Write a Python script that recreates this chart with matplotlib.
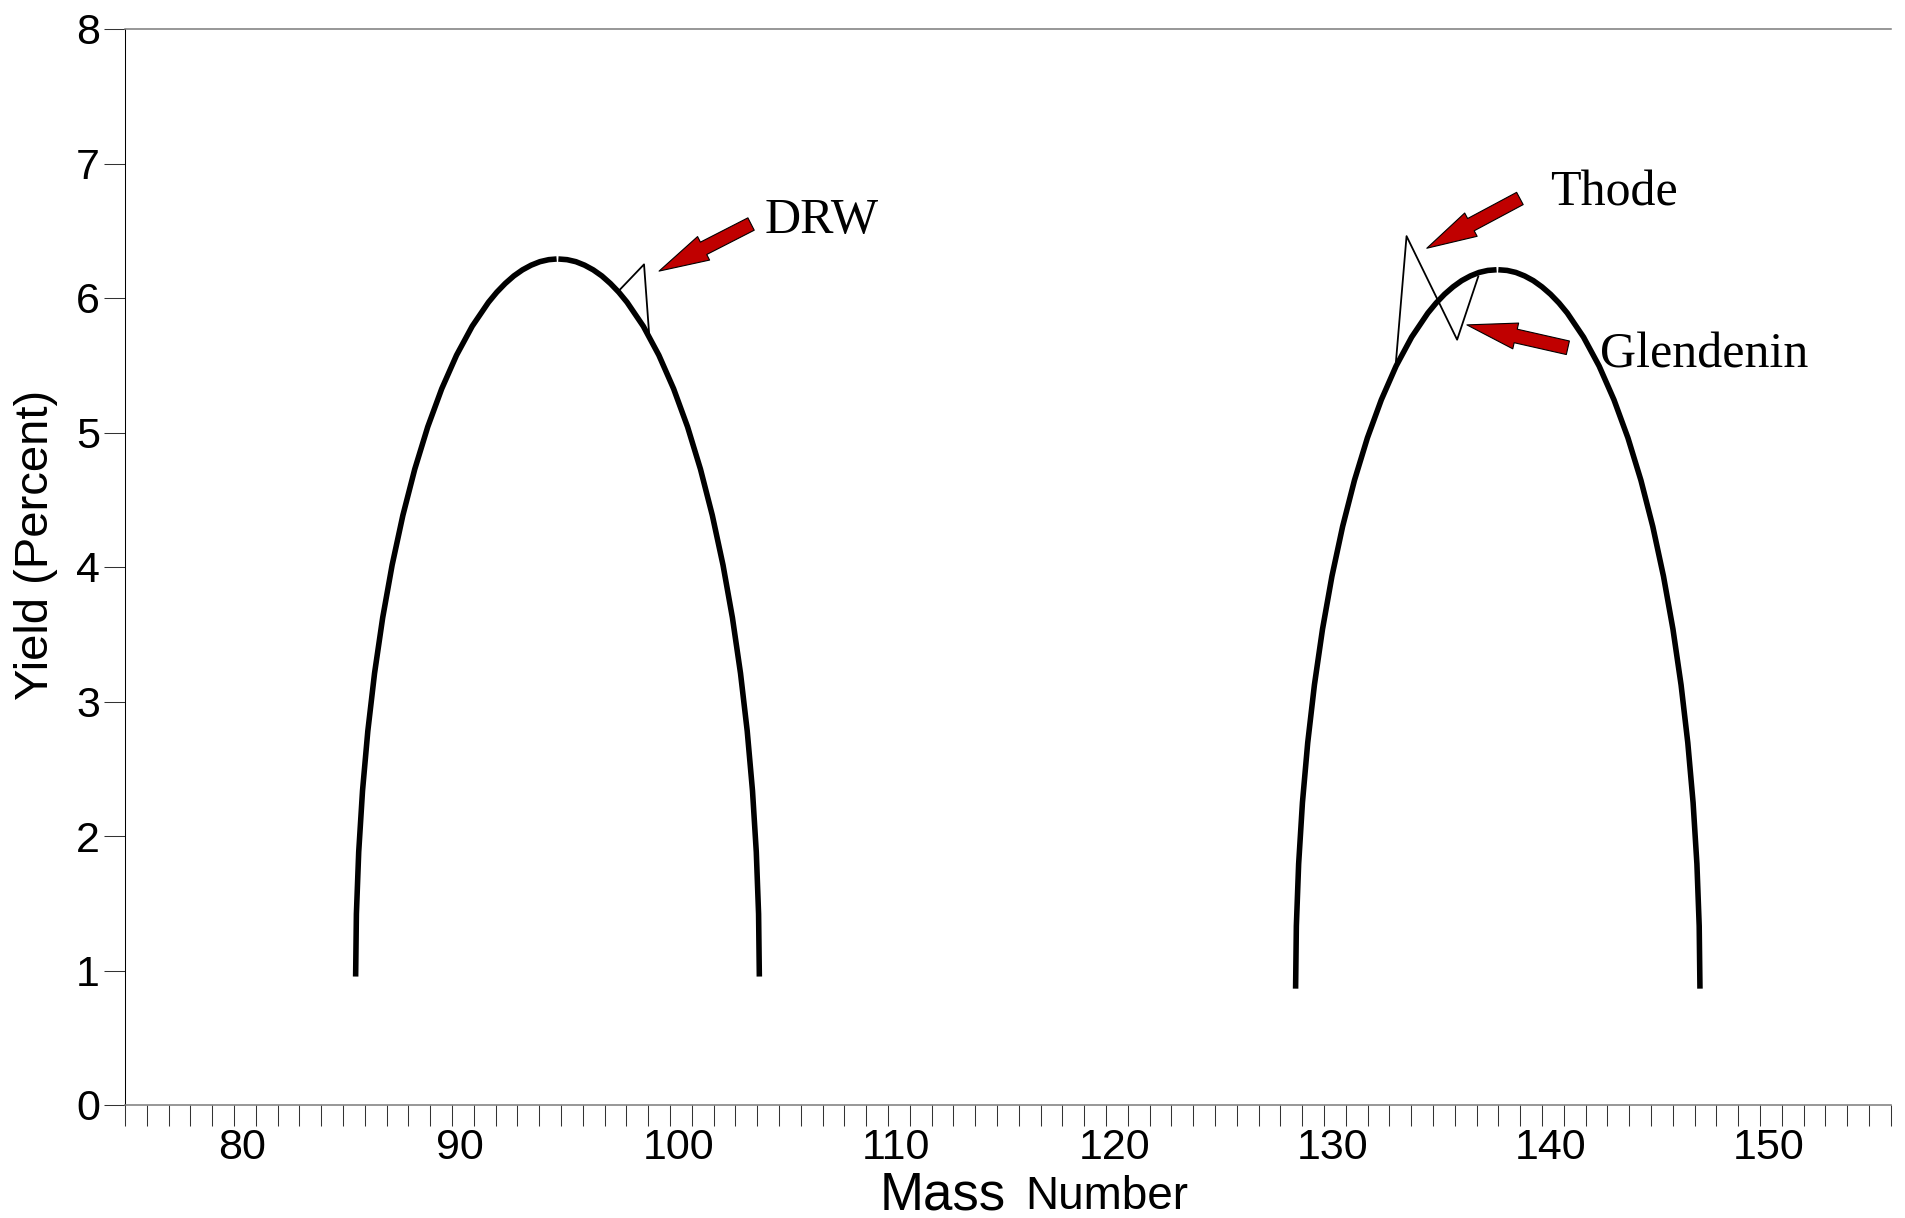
import matplotlib.pyplot as plt
from matplotlib.ticker import FixedLocator, MultipleLocator
from matplotlib.transforms import ScaledTranslation

plt.rcParams["font.family"] = ["Liberation Sans", "DejaVu Sans"]

# light fission-fragment peak (rising and falling halves)
light_up_mass = [85.58, 85.615, 85.721, 85.896, 86.139, 86.448, 86.821, 87.255, 87.747,
                 88.292, 88.888, 89.529, 90.210, 90.927, 91.673, 92.055, 92.443, 92.836,
                 93.232, 93.631, 94.033, 94.436, 94.80]
light_up_yield = [0.955, 1.420, 1.881, 2.336, 2.780, 3.210, 3.623, 4.015, 4.384,
                  4.727, 5.042, 5.325, 5.575, 5.790, 5.968, 6.043, 6.108, 6.164,
                  6.209, 6.244, 6.270, 6.285, 6.290]
light_down_mass = [94.88, 95.282, 95.684, 96.084, 96.481, 96.876, 97.266, 97.653, 98.033,
                   98.777, 99.490, 100.168, 100.807, 101.400, 101.943, 102.433, 102.865,
                   103.236, 103.544, 103.786, 103.960, 104.065, 104.10]
light_down_yield = [6.290, 6.285, 6.270, 6.244, 6.209, 6.164, 6.108, 6.043, 5.968,
                    5.790, 5.575, 5.325, 5.042, 4.727, 4.384, 4.015, 3.623,
                    3.210, 2.780, 2.336, 1.881, 1.420, 0.955]

# heavy peak
heavy_up_mass = [128.70, 128.735, 128.840, 129.014, 129.256, 129.564, 129.935, 130.367,
                 130.857, 131.401, 131.994, 132.632, 133.310, 134.023, 134.767, 135.148,
                 135.534, 135.924, 136.319, 136.717, 137.116, 137.518, 137.92]
heavy_up_yield = [0.865, 1.331, 1.793, 2.248, 2.693, 3.124, 3.538, 3.931,
                  4.301, 4.645, 4.960, 5.243, 5.494, 5.709, 5.888, 5.963,
                  6.028, 6.083, 6.129, 6.164, 6.190, 6.205, 6.210]
heavy_down_mass = [138.0, 138.404, 138.806, 139.207, 139.606, 140.002, 140.394, 140.782,
                   141.164, 141.909, 142.625, 143.306, 143.946, 144.541, 145.086, 145.577,
                   146.011, 146.383, 146.692, 146.935, 147.110, 147.215, 147.25]
heavy_down_yield = [6.210, 6.205, 6.190, 6.164, 6.129, 6.083, 6.028, 5.963,
                    5.888, 5.709, 5.494, 5.243, 4.960, 4.645, 4.301, 3.931,
                    3.538, 3.124, 2.693, 2.248, 1.793, 1.331, 0.865]

# fine-structure bumps reported by the different groups
drw_mass = [97.63, 98.81, 99.05]
drw_yield = [6.05, 6.25, 5.72]
thode_mass = [133.29, 133.79, 136.11, 137.08]
thode_yield = [5.50, 6.46, 5.69, 6.16]

# label text, anchor (mass, yield), arrow tail and arrow tip
labels = ["DRW", "Thode", "Glendenin"]
label_pos = [(104.36, 6.48), (140.37, 6.69), (142.66, 5.48)]
arrow_tail = [(103.72, 6.55), (138.99, 6.74), (141.19, 5.63)]
arrow_tip = [(99.50, 6.20), (134.72, 6.37), (136.56, 5.80)]

mass_ticks = [80, 90, 100, 110, 120, 130, 140, 150]
yield_ticks = [0, 1, 2, 3, 4, 5, 6, 7, 8]

fig, ax = plt.subplots(figsize=(19.06, 12.18), dpi=100)
fig.subplots_adjust(left=125 / 1906, right=1890.7 / 1906,
                    top=1 - 29 / 1218, bottom=1 - 1105 / 1218)

ax.plot(drw_mass, drw_yield, color="black", lw=1.3, zorder=2)
ax.plot(thode_mass, thode_yield, color="black", lw=1.3, zorder=2)

for xs, ys in [(light_up_mass, light_up_yield), (light_down_mass, light_down_yield),
               (heavy_up_mass, heavy_up_yield), (heavy_down_mass, heavy_down_yield)]:
    ax.plot(xs, ys, color="black", lw=4.0, solid_capstyle="butt",
            solid_joinstyle="round", zorder=3)

for text, pos, tail, tip in zip(labels, label_pos, arrow_tail, arrow_tip):
    ax.annotate("", xy=tip, xytext=tail,
                arrowprops=dict(arrowstyle="simple,head_length=36,head_width=19,tail_width=10",
                                mutation_scale=1, fc="#C00000", ec="black", lw=0.8,
                                shrinkA=0, shrinkB=0),
                zorder=4)
    ax.text(pos[0], pos[1], text, family=["Liberation Serif", "DejaVu Serif"],
            fontsize=36, va="baseline", ha="left", zorder=5)

ax.set_xlim(75, 156)
ax.set_ylim(0, 8)
ax.xaxis.set_major_locator(FixedLocator(mass_ticks))
ax.xaxis.set_minor_locator(MultipleLocator(1))
ax.set_yticks(yield_ticks)

ax.tick_params(axis="both", which="both", direction="out", length=15,
               width=0.75, color="#333333")
ax.tick_params(axis="x", labelsize=31, pad=1.5)
ax.tick_params(axis="y", labelsize=31, pad=3)

# the mass labels sit a little right of their ticks in the original
shift = ScaledTranslation(6 / 72, 0, fig.dpi_scale_trans)
for lab in ax.get_xticklabels():
    lab.set_transform(lab.get_transform() + shift)

ax.spines["right"].set_visible(False)
for side in ["top", "bottom"]:
    ax.spines[side].set_color("#7a7a7a")
    ax.spines[side].set_linewidth(1.1)
ax.spines["left"].set_color("black")
ax.spines["left"].set_linewidth(0.75)

fig.text(36 / 1906, 1 - 545 / 1218, "Yield (Percent)", rotation=90,
         ha="center", va="center", fontsize=34)
fig.text(880 / 1906, 1 - 1209 / 1218, "Mass", fontsize=38, va="baseline")
fig.text(1025 / 1906, 1 - 1209 / 1218, "Number", fontsize=33, va="baseline")

fig.savefig("out.png", dpi=100, facecolor="white")
